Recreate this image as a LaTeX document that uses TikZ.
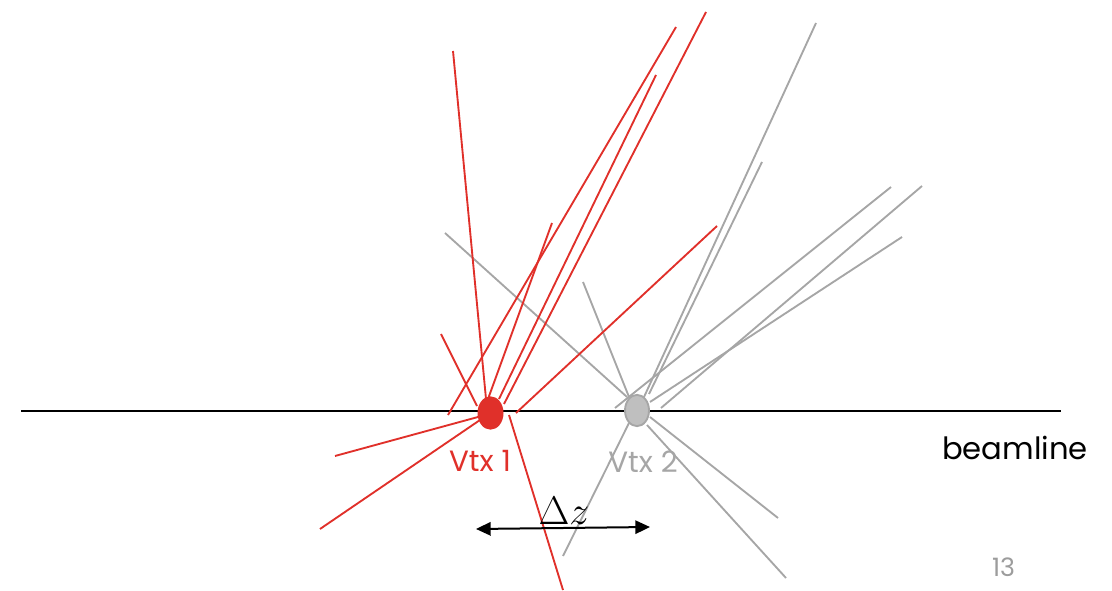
\RequirePackage{fix-cm}
\documentclass[tikz,border=0pt]{standalone}
\usepackage{fontspec}
\setmainfont{Poppins}
\usepackage{xcolor}
\usetikzlibrary{arrows.meta,positioning,shapes.geometric}

\definecolor{vtxred}{HTML}{E0302A}
\definecolor{trkgray}{HTML}{A6A6A6}
\definecolor{vtxgray}{HTML}{BFBFBF}
\definecolor{pagegray}{HTML}{9C9C9C}

\begin{document}
\begin{tikzpicture}[
  x=0.75pt, y=-0.75pt,
  redtrack/.style={draw=vtxred, line width=1.4pt},
  graytrack/.style={draw=trkgray, line width=1.4pt},
  vertex/.style={ellipse, minimum width=19.5pt, minimum height=25pt, inner sep=0pt},
  lbl/.style={font=\fontsize{22}{26}\selectfont, anchor=base, inner sep=0pt},
  dz/.style={{Triangle[length=11pt,width=10pt]}-{Triangle[length=11pt,width=10pt]}, line width=1.5pt}
]
  \useasboundingbox (0,0) rectangle (1112,591);

  % beamline
  \coordinate (bl-start) at (21,411);
  \coordinate (bl-end) at (1061,411);
  \draw[line width=1.7pt] (bl-start) -- (bl-end);

  % tracks of vertex 2
  \foreach \xa/\ya/\xb/\yb in {445/233/627/397, 583/282/629/397, 816/23/644/397,
      762/162/649/394, 891/187/615/408, 922/186/661/408, 902/237/650/402,
      563/556/629/423, 778/518/650/417, 786/578/647/425}
    \draw[graytrack] (\xa,\ya) -- (\xb,\yb);

  % tracks of vertex 1
  \foreach \xa/\ya/\xb/\yb in {453/51/486/399, 676/27/448/415, 706/12/504/404,
      656/75/499/399, 552/223/488/399, 717/226/516/413, 441/334/477/406,
      335/456/478/417, 320/529/480/420, 509/415/563/590}
    \draw[redtrack] (\xa,\ya) -- (\xb,\yb);

  % vertices
  \node[vertex, fill=vtxred] (vtx1) at (490.5,413) {};
  \node[vertex, fill=vtxgray, draw=trkgray, line width=1.4pt, minimum width=18pt, minimum height=23.5pt] (vtx2) at (637,410.5) {};

  % labels
  \node[lbl, text=vtxred] (vtx1-lbl) at (480,471) {Vtx 1};
  \node[lbl, text=trkgray] (vtx2-lbl) at (643,472) {Vtx 2};
  \node[lbl, font=\fontsize{23}{27}\selectfont] (beam-lbl) at (1015,459) {beamline};
  \node[lbl, text=pagegray, font=\fontsize{19}{22}\selectfont] (page-lbl) at (1003.5,576) {13};

  % separation
  \coordinate (dz-left) at (476,529);
  \coordinate (dz-right) at (650,527);
  \draw[dz] (dz-left) -- (dz-right);
  \node[anchor=base, inner sep=0pt, font=\fontsize{30}{34}\selectfont] (dz-lbl) at (564,524) {$\Delta z$};
\end{tikzpicture}
\end{document}
